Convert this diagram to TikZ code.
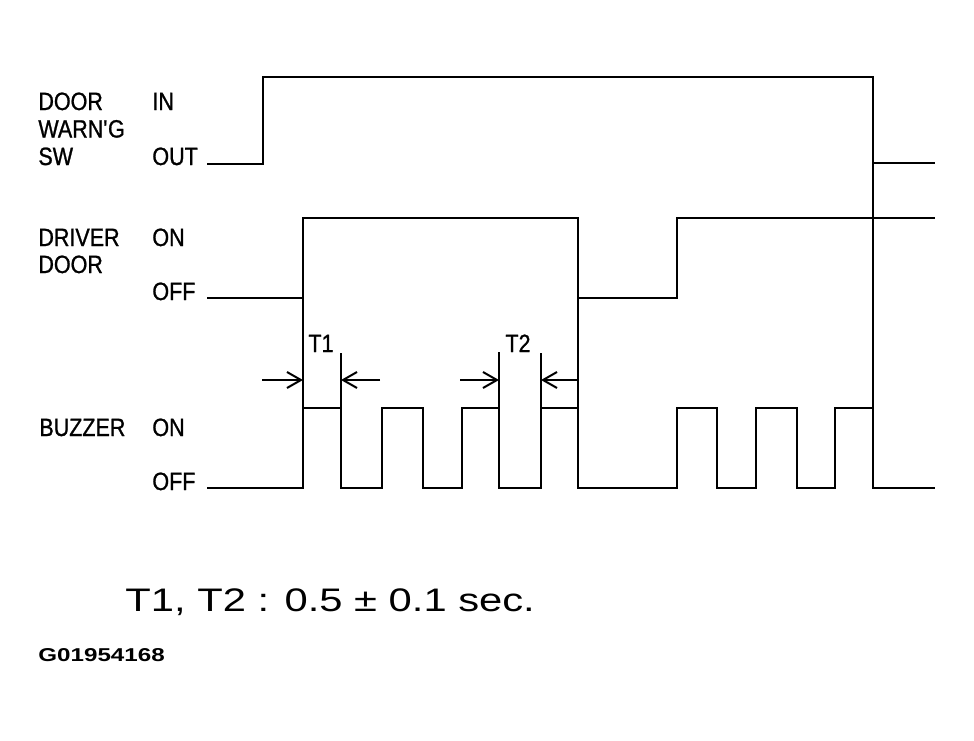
\documentclass[tikz,border=0pt]{standalone}
\usepackage{fontspec}
\setmainfont{Liberation Sans}[FakeStretch=0.86,FakeBold=1]
\newfontfamily\notefont{Liberation Sans}[FakeStretch=1.28]
\newfontfamily\codefont{Liberation Sans Bold}[FakeStretch=1.3]
\usetikzlibrary{arrows.meta}

\begin{document}
\begin{tikzpicture}[x=0.5pt,y=-0.5pt,
    wave/.style={line width=1.25pt},
    lbl/.style={font=\fontsize{12.5}{15}\selectfont,anchor=base west,inner sep=0pt},
    dim/.style={line width=1pt,-{Straight Barb[length=7pt,width=8pt,line width=1pt]}}]
        \useasboundingbox (0,0) rectangle (974,740);
        % signal names and levels
        \node[lbl] (dw1) at (38,110) {DOOR};
        \node[lbl] (dw2) at (38,137.5) {WARN\textquotesingle G};
        \node[lbl] (dw3) at (38,165) {SW};
        \node[lbl] (dwin) at (152,110) {IN};
        \node[lbl] (dwout) at (152,165) {OUT};
        \node[lbl] (dd1) at (38,246) {DRIVER};
        \node[lbl] (dd2) at (38,273) {DOOR};
        \node[lbl] (ddon) at (152,246) {ON};
        \node[lbl] (ddoff) at (152,300) {OFF};
        \node[lbl] (bz) at (39,436) {BUZZER};
        \node[lbl] (bzon) at (152,436) {ON};
        \node[lbl] (bzoff) at (152,490) {OFF};
        % waveforms
        \draw[wave] (207,164) -- (263,164) -- (263,77) -- (873,77) -- (873,163) -- (935,163);
        \draw[wave] (207,298) -- (303,298) -- (303,218) -- (578,218) -- (578,298) -- (677,298) -- (677,218) -- (935,218);
        \draw[wave] (207,488) -- (303,488) -- (303,408) -- (341,408) -- (341,488) -- (382,488) -- (382,408)
            -- (423,408) -- (423,488) -- (462,488) -- (462,408) -- (499,408) -- (499,488) -- (541,488)
            -- (541,408) -- (578,408) -- (578,488) -- (677,488) -- (677,408) -- (717,408) -- (717,488)
            -- (756,488) -- (756,408) -- (797,408) -- (797,488) -- (835,488) -- (835,408) -- (873,408)
            -- (873,488) -- (935,488);
        \draw[wave] (303,298) -- (303,408);
        \draw[wave] (578,298) -- (578,408);
        \draw[wave] (873,163) -- (873,408);
        % T1 and T2
        \draw[wave] (341,353) -- (341,408);
        \draw[wave] (499,352) -- (499,408);
        \draw[wave] (541,353) -- (541,408);
        \node[lbl,anchor=base] (t1) at (321,352) {T1};
        \node[lbl,anchor=base] (t2) at (518,352) {T2};
        \coordinate (t1a) at (262,380);
        \coordinate (t1b) at (303,380);
        \coordinate (t1c) at (380,380);
        \coordinate (t1d) at (341,380);
        \coordinate (t2a) at (460,380);
        \coordinate (t2b) at (499,380);
        \coordinate (t2c) at (578,380);
        \coordinate (t2d) at (541,380);
        \draw[dim] (t1a) -- (t1b);
        \draw[dim] (t1c) -- (t1d);
        \draw[dim] (t2a) -- (t2b);
        \draw[dim] (t2c) -- (t2d);
        % note
        \node[anchor=base west,inner sep=0pt,font=\notefont\fontsize{16.3}{19}\selectfont] (note) at (125,611) {T1, T2 : 0.5 ± 0.1 sec.};
        \node[anchor=base west,inner sep=0pt,font=\codefont\fontsize{9.3}{11}\selectfont] (code) at (38,661) {G01954168};
    \end{tikzpicture}
\end{document}
